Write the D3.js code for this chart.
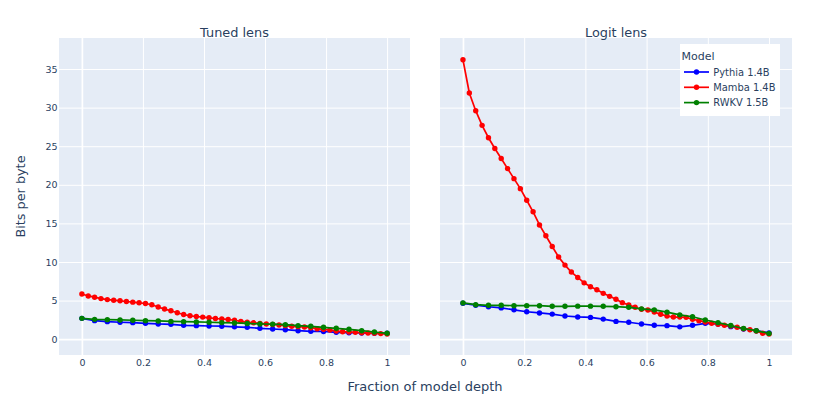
<!DOCTYPE html>
<html>
<head>
<meta charset="utf-8">
<script src="https://cdn.jsdelivr.net/npm/d3@7"></script>
<style>
html,body{margin:0;padding:0;background:#fff;}
svg text{font-family:"DejaVu Sans",sans-serif;fill:#2a3f5f;}
</style>
</head>
<body>
<svg id="chart" width="830" height="415"></svg>
<script>
// ---- data ----
const panelTitles = ["Tuned lens", "Logit lens"];
const seriesNames = ["Pythia 1.4B", "Mamba 1.4B", "RWKV 1.5B"];
const seriesColors = ["#0000ff", "#ff0000", "#008000"];
const xTicks = [0, 0.2, 0.4, 0.6, 0.8, 1];
const xTickLabels = ["0", "0.2", "0.4", "0.6", "0.8", "1"];
const yTicks = [0, 5, 10, 15, 20, 25, 30, 35];

// Tuned lens
const tunedPythia = [2.7, 2.4, 2.27, 2.19, 2.14, 2.06, 1.97, 1.93, 1.8, 1.75, 1.71, 1.68, 1.6,
  1.54, 1.41, 1.32, 1.23, 1.1, 1.02, 1.0, 0.89, 0.84, 0.8, 0.76, 0.76];
const tunedMamba = [5.85, 5.6, 5.44, 5.26, 5.13, 5.05, 4.97, 4.88, 4.8, 4.71,
  4.62, 4.46, 4.16, 3.9, 3.68, 3.42, 3.2, 3.03, 2.94, 2.86,
  2.77, 2.68, 2.62, 2.55, 2.45, 2.3, 2.2, 2.12, 2.05, 1.97,
  1.9, 1.84, 1.75, 1.67, 1.62, 1.58, 1.49, 1.36, 1.28, 1.19,
  1.06, 0.97, 0.93, 0.89, 0.84, 0.8, 0.76, 0.72, 0.68];
const tunedRwkv = [2.7, 2.57, 2.53, 2.49, 2.45, 2.4, 2.36, 2.3, 2.27, 2.23, 2.19, 2.15, 2.1,
  2.04, 1.97, 1.95, 1.88, 1.75, 1.67, 1.54, 1.41, 1.28, 1.1, 0.93, 0.76];

// Logit lens
const logitPythia = [4.65, 4.4, 4.2, 4.05, 3.8, 3.55, 3.4, 3.25, 3.0, 2.88, 2.82, 2.6, 2.3,
  2.19, 1.97, 1.8, 1.75, 1.6, 1.8, 2.05, 1.97, 1.62, 1.32, 1.1, 0.82];
const logitMamba = [36.2, 31.9, 29.6, 27.7, 26.1, 24.7, 23.4, 22.1, 20.8, 19.5,
  18.0, 16.5, 14.8, 13.4, 12.0, 10.65, 9.6, 8.7, 8.0, 7.3,
  6.8, 6.4, 5.94, 5.55, 5.17, 4.73, 4.43, 4.13, 3.87, 3.78,
  3.52, 3.22, 3.0, 2.87, 2.87, 2.83, 2.58, 2.4, 2.23, 2.06,
  1.93, 1.8, 1.71, 1.54, 1.36, 1.23, 1.06, 0.76, 0.67];
const logitRwkv = [4.7, 4.47, 4.39, 4.39, 4.34, 4.34, 4.34, 4.26, 4.26, 4.28, 4.28, 4.26, 4.21,
  4.13, 3.93, 3.8, 3.5, 3.15, 2.91, 2.49, 2.14, 1.77, 1.38, 1.1, 0.75];

const panels = [
  [tunedPythia, tunedMamba, tunedRwkv],
  [logitPythia, logitMamba, logitRwkv]
];

// ---- layout ----
const svg = d3.select("#chart");
const plotTop = 38, plotBottom = 355;
const panelX = [[59, 410], [440, 792]];
const y = d3.scaleLinear().domain([-2.05, 39.02]).range([plotBottom, plotTop]);

panels.forEach((series, p) => {
  const [x0, x1] = panelX[p];
  const x = d3.scaleLinear().domain([-0.075, 1.075]).range([x0, x1]);
  const g = svg.append("g");

  g.append("rect").attr("x", x0).attr("y", plotTop)
    .attr("width", x1 - x0).attr("height", plotBottom - plotTop).attr("fill", "#E5ECF6");

  // gridlines via axes
  const gx = g.append("g").attr("transform", `translate(0,${plotBottom})`)
    .call(d3.axisBottom(x).tickValues(xTicks).tickSize(-(plotBottom - plotTop)).tickFormat(""));
  gx.select(".domain").remove();
  gx.selectAll("line").attr("stroke", "#fff").attr("stroke-width", d => d === 0 ? 1.7 : 1);

  const gy = g.append("g").attr("transform", `translate(${x0},0)`)
    .call(d3.axisLeft(y).tickValues(yTicks).tickSize(-(x1 - x0)).tickFormat(""));
  gy.select(".domain").remove();
  gy.selectAll("line").attr("stroke", "#fff").attr("stroke-width", d => d === 0 ? 1.7 : 1);

  // tick labels
  const lx = g.append("g").attr("transform", `translate(0,${plotBottom})`)
    .call(d3.axisBottom(x).tickValues(xTicks).tickSize(0).tickPadding(4)
      .tickFormat((d, i) => xTickLabels[i]));
  lx.select(".domain").remove();
  lx.selectAll("text").attr("font-size", 9.5).attr("fill", "#2a3f5f")
    .attr("font-family", "DejaVu Sans");

  if (p === 0) {
    const ly = g.append("g").attr("transform", `translate(${x0},0)`)
      .call(d3.axisLeft(y).tickValues(yTicks).tickSize(0).tickPadding(1.5));
    ly.select(".domain").remove();
    ly.selectAll("text").attr("font-size", 9.5).attr("fill", "#2a3f5f")
      .attr("font-family", "DejaVu Sans");
  }

  // title
  g.append("text").attr("x", (x0 + x1) / 2).attr("y", 36.5)
    .attr("text-anchor", "middle").attr("font-size", 12.9).text(panelTitles[p]);

  // series
  series.forEach((vals, s) => {
    const n = vals.length - 1;
    const pts = vals.map((v, i) => [i / n, v]);
    const line = d3.line().x(d => x(d[0])).y(d => y(d[1]));
    g.append("path").datum(pts).attr("d", line).attr("fill", "none")
      .attr("stroke", seriesColors[s]).attr("stroke-width", 1.7);
    g.selectAll(null).data(pts).enter().append("circle")
      .attr("cx", d => x(d[0])).attr("cy", d => y(d[1])).attr("r", 2.7)
      .attr("fill", seriesColors[s]);
  });
});

// axis titles
svg.append("text").attr("x", 425).attr("y", 390.5).attr("text-anchor", "middle")
  .attr("font-size", 13).text("Fraction of model depth");
svg.append("text").attr("transform", "translate(24.5,196.5) rotate(-90)")
  .attr("text-anchor", "middle").attr("font-size", 12.8).text("Bits per byte");

// legend
const lg = svg.append("g");
lg.append("rect").attr("x", 680).attr("y", 44).attr("width", 100).attr("height", 72)
  .attr("fill", "#fff");
lg.append("text").attr("x", 681.5).attr("y", 59.5).attr("font-size", 11).text("Model");
seriesNames.forEach((name, i) => {
  const ly = 72 + i * 15.3;
  lg.append("line").attr("x1", 684).attr("x2", 709).attr("y1", ly).attr("y2", ly)
    .attr("stroke", seriesColors[i]).attr("stroke-width", 1.7);
  lg.append("circle").attr("cx", 696.5).attr("cy", ly).attr("r", 2.7).attr("fill", seriesColors[i]);
  lg.append("text").attr("x", 713.3).attr("y", ly + 3.6).attr("font-size", 9.9).text(name);
});
</script>
</body>
</html>
